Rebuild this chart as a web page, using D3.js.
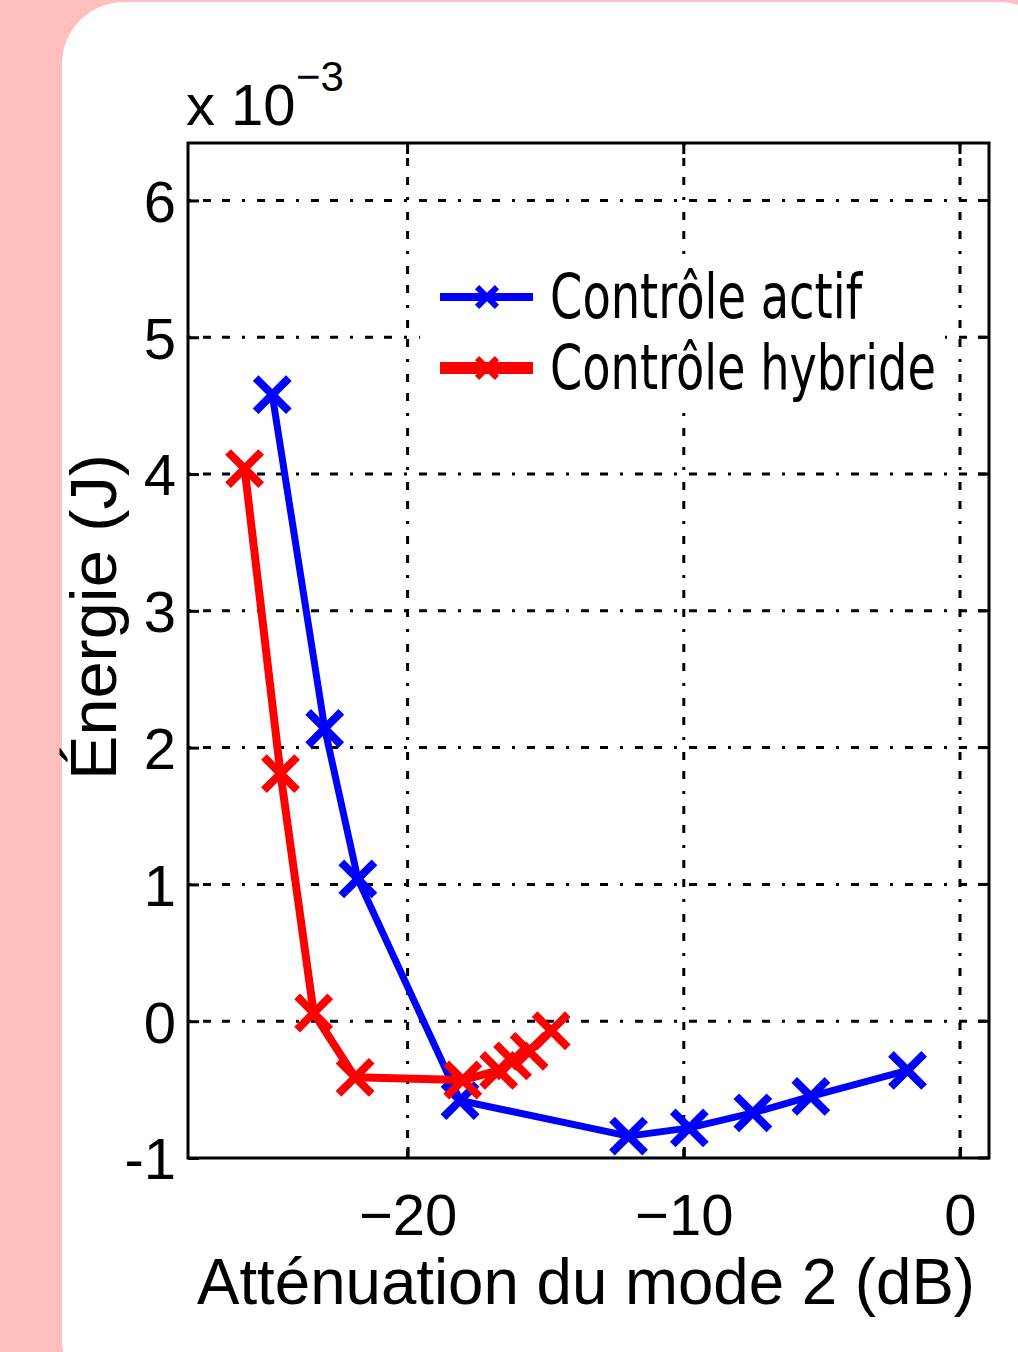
<!DOCTYPE html>
<html>
<head>
<meta charset="utf-8">
<script src="https://cdn.jsdelivr.net/npm/d3@7"></script>
<style>
  html, body { margin: 0; padding: 0; background: #ffbfbd; }
  svg { display: block; }
</style>
</head>
<body>
<div id="chart-area"></div>
<script>
// data (energy in units of 1e-3 J)
const actifX = [-24.9, -23.0, -21.8, -18.1, -12.0, -9.8, -7.5, -5.4, -1.9];
const actifY = [4.58, 2.14, 1.04, -0.58, -0.84, -0.78, -0.67, -0.55, -0.36];
const hybrideX = [-25.9, -24.6, -23.4, -21.9, -18.0, -16.7, -16.2, -15.6, -14.8];
const hybrideY = [4.04, 1.81, 0.06, -0.41, -0.43, -0.36, -0.29, -0.22, -0.07];
const xTicks = [-20, -10, 0];
const yTicks = [-1, 0, 1, 2, 3, 4, 5, 6];
const seriesNames = ["Contrôle actif", "Contrôle hybride"];
const seriesColors = ["#0000ff", "#ff0000"];

let W = 1018, H = 1352;
let margin = {top: 143, right: 29, bottom: 194, left: 188};

let svg = d3.select("#chart-area")
  .append("svg")
  .attr("width", W)
  .attr("height", H);

// white card
svg.append("rect")
  .attr("x", 62).attr("y", 2)
  .attr("width", 1000).attr("height", 1400)
  .attr("rx", 62).attr("ry", 62)
  .attr("fill", "#fff");

let x = d3.scaleLinear().domain([-27.95, 1.05]).range([margin.left, W - margin.right]);
let y = d3.scaleLinear().domain([-1, 6.42]).range([H - margin.bottom, margin.top]);

let dashGrid = "3,12,8,11,8,12";

// grid
svg.append("g").selectAll("line")
  .data(xTicks)
  .enter().append("line")
  .attr("x1", d => x(d)).attr("x2", d => x(d))
  .attr("y1", y.range()[1]).attr("y2", y.range()[0])
  .attr("stroke", "#000").attr("stroke-width", 3)
  .attr("stroke-dasharray", dashGrid);

svg.append("g").selectAll("line")
  .data(yTicks.filter(d => d > -1))
  .enter().append("line")
  .attr("y1", d => y(d)).attr("y2", d => y(d))
  .attr("x1", x.range()[0]).attr("x2", x.range()[1])
  .attr("stroke", "#000").attr("stroke-width", 3)
  .attr("stroke-dasharray", dashGrid);

// axes, ticks pointing inward like matlab
let xAxis = d3.axisBottom(x).tickValues(xTicks).tickSizeInner(-11).tickSizeOuter(0).tickFormat(d => d3.format("")(d).replace("-", "\u2212"));
let yAxis = d3.axisLeft(y).tickValues(yTicks).tickSizeInner(-11).tickSizeOuter(0).tickFormat(d => d < 0 ? "-" + Math.abs(d) : d);

let gx = svg.append("g")
  .attr("transform", "translate(0," + y.range()[0] + ")")
  .call(xAxis);
let gy = svg.append("g")
  .attr("transform", "translate(" + x.range()[0] + ",0)")
  .call(yAxis);

[gx, gy].forEach(function(g) {
  g.select(".domain").remove();
  g.selectAll(".tick line").attr("stroke", "#000").attr("stroke-width", 3);
  g.selectAll(".tick text")
    .attr("fill", "#000")
    .style("font-family", "'Liberation Sans', Arial, sans-serif")
    .style("font-size", "58px");
});
gx.selectAll(".tick text").attr("y", 36).attr("dy", "0.71em");
gy.selectAll(".tick text").attr("x", -12).attr("dy", "0.36em");

// right / top ticks
svg.append("g").selectAll("line")
  .data(yTicks)
  .enter().append("line")
  .attr("x1", x.range()[1]).attr("x2", x.range()[1] - 11)
  .attr("y1", d => y(d)).attr("y2", d => y(d))
  .attr("stroke", "#000").attr("stroke-width", 3);
svg.append("g").selectAll("line")
  .data(xTicks)
  .enter().append("line")
  .attr("x1", d => x(d)).attr("x2", d => x(d))
  .attr("y1", y.range()[1]).attr("y2", y.range()[1] + 11)
  .attr("stroke", "#000").attr("stroke-width", 3);

// frame
svg.append("rect")
  .attr("x", x.range()[0]).attr("y", y.range()[1])
  .attr("width", x.range()[1] - x.range()[0])
  .attr("height", y.range()[0] - y.range()[1])
  .attr("fill", "none").attr("stroke", "#000").attr("stroke-width", 3);

// series
let line = d3.line().x(d => x(d[0])).y(d => y(d[1]));
let marker = d3.symbol().type(d3.symbolTimes).size(720);

function drawSeries(xs, ys, color, width) {
  let pts = xs.map((v, i) => [v, ys[i]]);
  svg.append("path")
    .datum(pts)
    .attr("d", line)
    .attr("fill", "none")
    .attr("stroke", color)
    .attr("stroke-width", width)
    .attr("stroke-linejoin", "round");
  svg.append("g").selectAll("path")
    .data(pts)
    .enter().append("path")
    .attr("d", marker)
    .attr("transform", d => "translate(" + x(d[0]) + "," + y(d[1]) + ")")
    .attr("fill", "none")
    .attr("stroke", color)
    .attr("stroke-width", 8);
}
drawSeries(actifX, actifY, seriesColors[0], 7);
drawSeries(hybrideX, hybrideY, seriesColors[1], 8);

// legend (white box without border, hides the grid)
svg.append("rect")
  .attr("x", 420).attr("y", 255)
  .attr("width", 525).attr("height", 158)
  .attr("fill", "#fff");

let legendY = [297, 368];
let legendWidths = [312, 386];
seriesNames.forEach(function(name, i) {
  svg.append("line")
    .attr("x1", 440).attr("x2", 533)
    .attr("y1", legendY[i]).attr("y2", legendY[i])
    .attr("stroke", seriesColors[i])
    .attr("stroke-width", i == 0 ? 8 : 12);
  svg.append("path")
    .attr("d", d3.symbol().type(d3.symbolTimes).size(260)())
    .attr("transform", "translate(487," + legendY[i] + ")")
    .attr("fill", "none")
    .attr("stroke", seriesColors[i])
    .attr("stroke-width", 6);
  let t = svg.append("text")
    .attr("x", 0)
    .attr("y", 0)
    .style("font-family", "'DejaVu Sans Condensed', 'DejaVu Sans', Verdana, sans-serif")
    .style("font-size", "62px")
    .text(name);
  // squeeze horizontally to the width seen in the picture
  let sx = legendWidths[i] / t.node().getComputedTextLength();
  t.attr("transform", "translate(550," + (legendY[i] + 21) + ") scale(" + sx + ",1)");
});

// multiplier
svg.append("text")
  .attr("x", 186).attr("y", 125)
  .style("font-family", "'Liberation Sans', Arial, sans-serif")
  .style("font-size", "58px")
  .text("x 10");
svg.append("text")
  .attr("x", 296).attr("y", 91)
  .style("font-family", "'Liberation Sans', Arial, sans-serif")
  .style("font-size", "42px")
  .text("\u22123");

// axis titles
svg.append("text")
  .attr("x", 586).attr("y", 1304)
  .attr("text-anchor", "middle")
  .attr("textLength", 778)
  .attr("lengthAdjust", "spacingAndGlyphs")
  .style("font-family", "'Liberation Sans', Arial, sans-serif")
  .style("font-size", "64px")
  .text("Atténuation du mode 2 (dB)");

svg.append("text")
  .attr("transform", "translate(116,617) rotate(-90)")
  .attr("text-anchor", "middle")
  .attr("textLength", 326)
  .attr("lengthAdjust", "spacingAndGlyphs")
  .style("font-family", "'Liberation Sans', Arial, sans-serif")
  .style("font-size", "64px")
  .text("Énergie (J)");
</script>
</body>
</html>
